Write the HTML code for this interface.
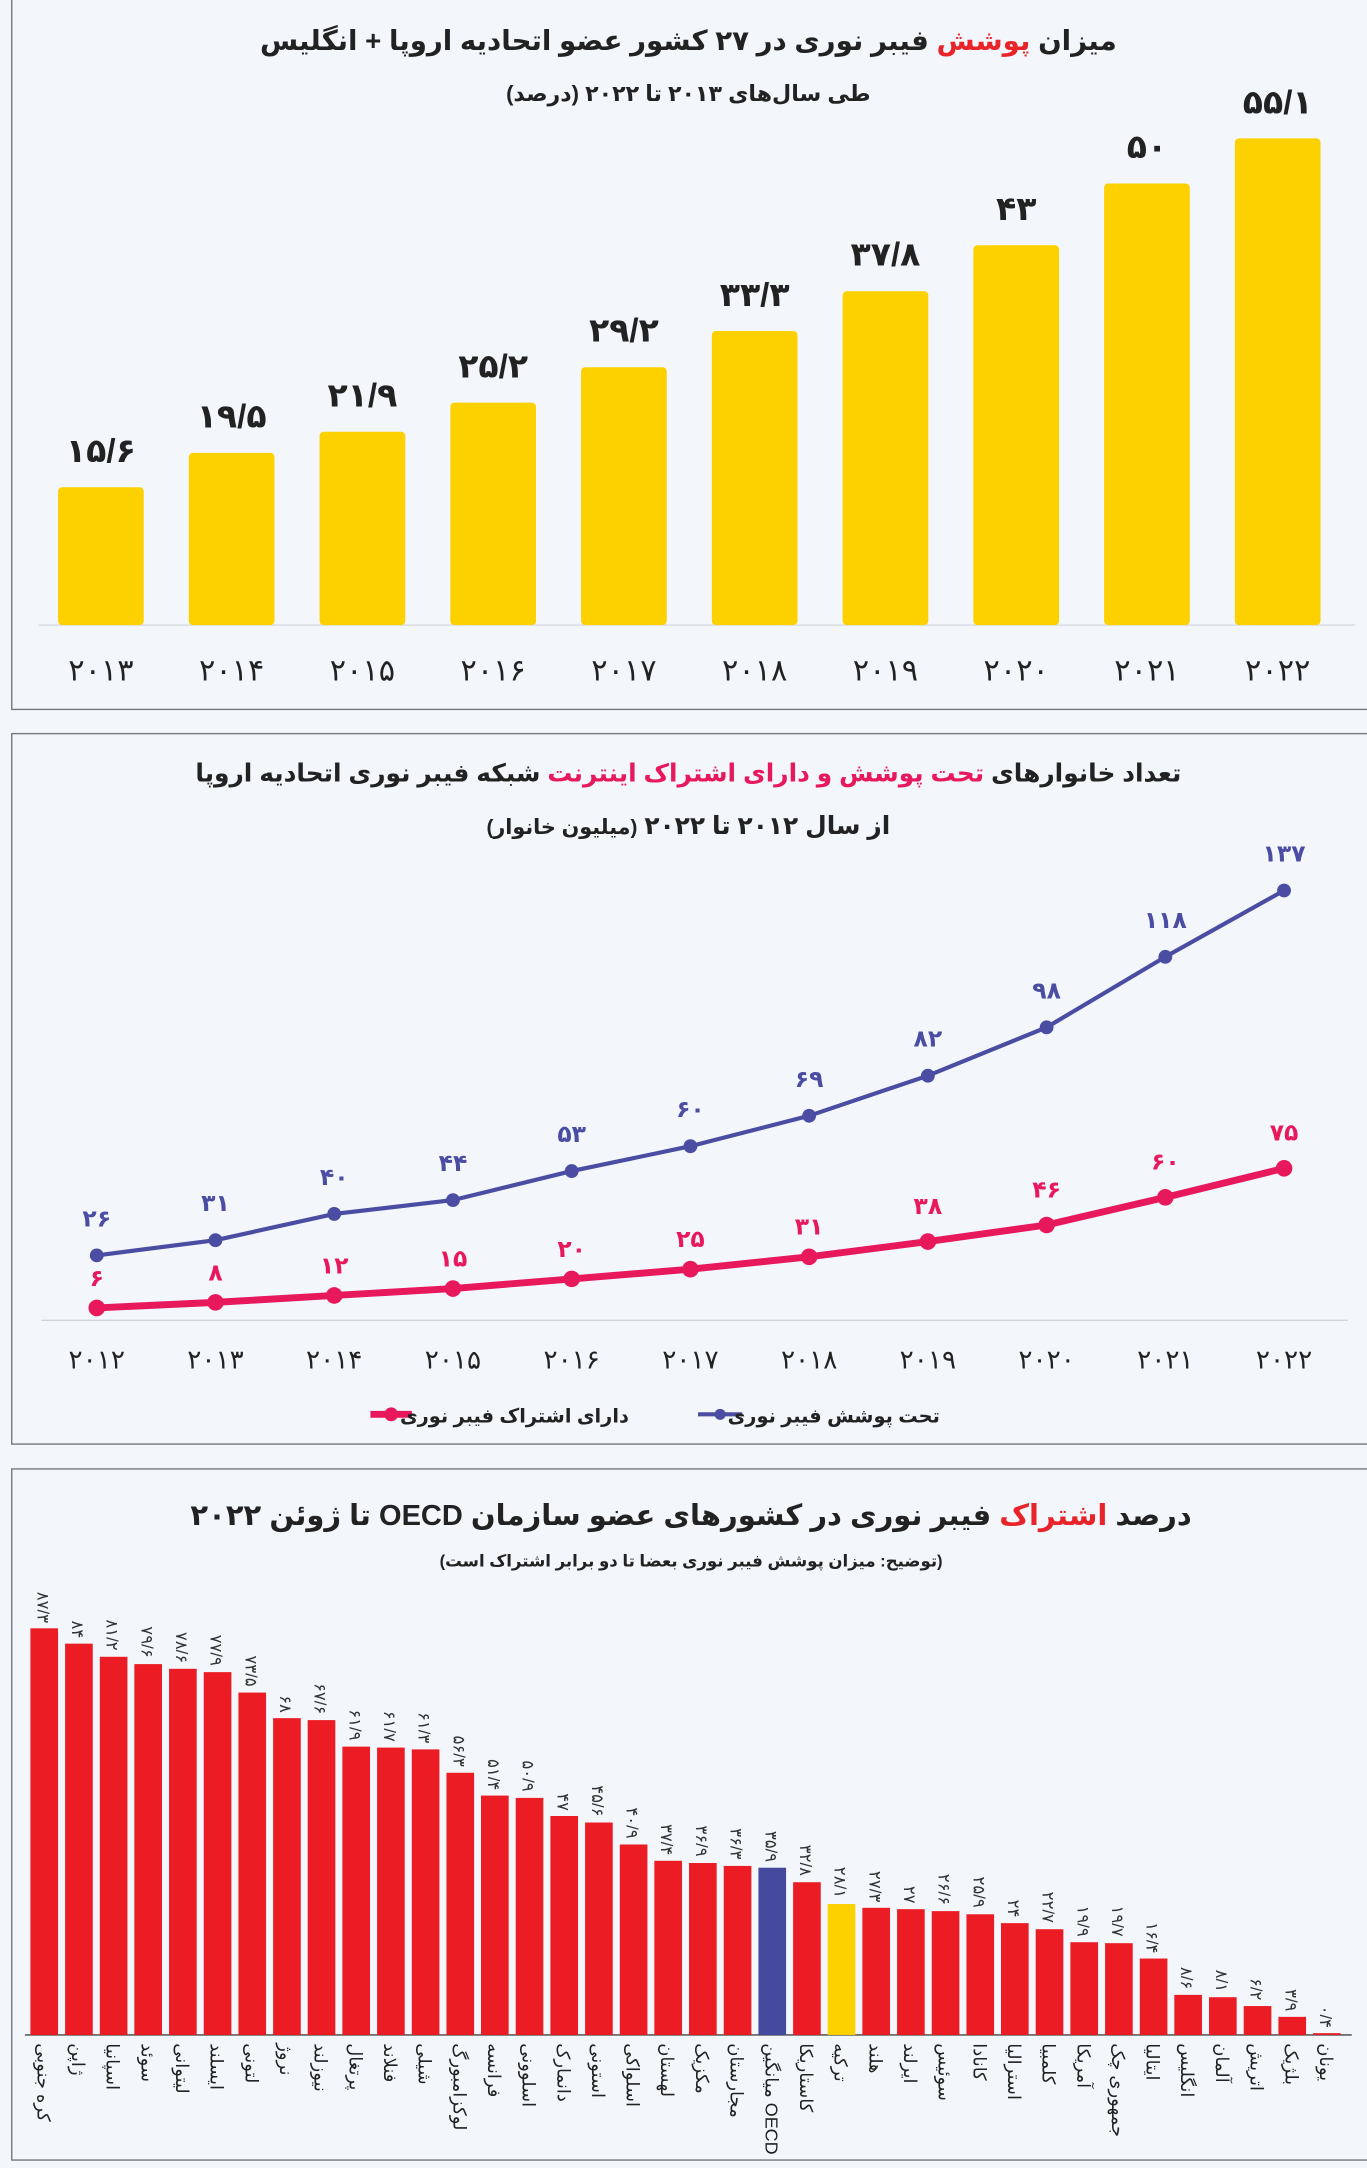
<!DOCTYPE html>
<html><head><meta charset="utf-8"><style>
html,body{margin:0;padding:0;background:#f3f7fc;}
svg{display:block;}
text{font-family:"Liberation Sans","Noto Sans CJK SC","DejaVu Sans",sans-serif;}
</style></head><body>
<svg xmlns="http://www.w3.org/2000/svg" width="1367" height="2168" viewBox="0 0 989 1568">
<rect width="989" height="1568" fill="#f3f7fc"/>
<!-- Panel 1 -->
<rect x="8.5" y="-1" width="990" height="514" fill="#f3f7fc" stroke="#777" stroke-width="1"/>
<text x="498" y="36" font-size="20" font-weight="bold" text-anchor="middle" direction="rtl" fill="#222">میزان <tspan fill="#e8242a">پوشش</tspan> فیبر نوری در ۲۷ کشور عضو اتحادیه اروپا + انگلیس</text>
<text x="498" y="73" font-size="16" font-weight="bold" text-anchor="middle" direction="rtl" fill="#222">طی سال‌های ۲۰۱۳ تا ۲۰۲۲ (درصد)</text>
<line x1="28" y1="452" x2="980" y2="452" stroke="#d8dce2" stroke-width="1"/>
<g fill="#fdd000">
<rect x="42" y="352.3" width="62" height="99.7" rx="3"/>
<rect x="136.6" y="327.4" width="62" height="124.6" rx="3"/>
<rect x="231.2" y="312.1" width="62" height="139.9" rx="3"/>
<rect x="325.8" y="291" width="62" height="161" rx="3"/>
<rect x="420.4" y="265.4" width="62" height="186.6" rx="3"/>
<rect x="515" y="239.2" width="62" height="212.8" rx="3"/>
<rect x="609.6" y="210.5" width="62" height="241.5" rx="3"/>
<rect x="704.2" y="177.2" width="62" height="274.8" rx="3"/>
<rect x="798.8" y="132.5" width="62" height="319.5" rx="3"/>
<rect x="893.4" y="99.9" width="62" height="352.1" rx="3"/>
</g>
<g font-size="24" font-weight="bold" text-anchor="middle" fill="#222">
<text x="73" y="334">۱۵/۶</text>
<text x="167.6" y="309">۱۹/۵</text>
<text x="262.2" y="294">۲۱/۹</text>
<text x="356.8" y="273">۲۵/۲</text>
<text x="451.4" y="247">۲۹/۲</text>
<text x="546" y="221">۳۳/۳</text>
<text x="640.6" y="192">۳۷/۸</text>
<text x="735.2" y="159">۴۳</text>
<text x="829.8" y="114">۵۰</text>
<text x="924.4" y="82">۵۵/۱</text>
</g>
<g font-size="22" text-anchor="middle" fill="#222">
<text x="73" y="492">۲۰۱۳</text>
<text x="167.6" y="492">۲۰۱۴</text>
<text x="262.2" y="492">۲۰۱۵</text>
<text x="356.8" y="492">۲۰۱۶</text>
<text x="451.4" y="492">۲۰۱۷</text>
<text x="546" y="492">۲۰۱۸</text>
<text x="640.6" y="492">۲۰۱۹</text>
<text x="735.2" y="492">۲۰۲۰</text>
<text x="829.8" y="492">۲۰۲۱</text>
<text x="924.4" y="492">۲۰۲۲</text>
</g>

<!-- Panel 2 -->
<rect x="8.5" y="530.5" width="990" height="514" fill="#f3f7fc" stroke="#777" stroke-width="1"/>
<text x="498" y="565" font-size="18" font-weight="bold" text-anchor="middle" direction="rtl" fill="#222">تعداد خانوارهای <tspan fill="#e8185c">تحت پوشش و دارای اشتراک اینترنت</tspan> شبکه فیبر نوری اتحادیه اروپا</text>
<text x="498" y="603" font-size="18" font-weight="bold" text-anchor="middle" direction="rtl" fill="#222">از سال ۲۰۱۲ تا ۲۰۲۲ <tspan font-size="15">(میلیون خانوار)</tspan></text>
<line x1="30" y1="955" x2="975" y2="955" stroke="#d0d4da" stroke-width="1"/>
<polyline fill="none" stroke="#4b4da3" stroke-width="3" points="70,908 155.9,897 241.8,878 327.7,868 413.6,847 499.5,829 585.4,807 671.3,778 757.2,743 843.1,692 929,644"/>
<polyline fill="none" stroke="#e8185c" stroke-width="5" points="70,946 155.9,942 241.8,937 327.7,932 413.6,925 499.5,918 585.4,909 671.3,898 757.2,886 843.1,866 929,845"/>
<g fill="#4b4da3">
<circle cx="70" cy="908" r="5"/><circle cx="155.9" cy="897" r="5"/><circle cx="241.8" cy="878" r="5"/><circle cx="327.7" cy="868" r="5"/><circle cx="413.6" cy="847" r="5"/><circle cx="499.5" cy="829" r="5"/><circle cx="585.4" cy="807" r="5"/><circle cx="671.3" cy="778" r="5"/><circle cx="757.2" cy="743" r="5"/><circle cx="843.1" cy="692" r="5"/><circle cx="929" cy="644" r="5"/>
</g>
<g fill="#e8185c">
<circle cx="70" cy="946" r="6"/><circle cx="155.9" cy="942" r="6"/><circle cx="241.8" cy="937" r="6"/><circle cx="327.7" cy="932" r="6"/><circle cx="413.6" cy="925" r="6"/><circle cx="499.5" cy="918" r="6"/><circle cx="585.4" cy="909" r="6"/><circle cx="671.3" cy="898" r="6"/><circle cx="757.2" cy="886" r="6"/><circle cx="843.1" cy="866" r="6"/><circle cx="929" cy="845" r="6"/>
</g>
<g font-size="17" font-weight="bold" text-anchor="middle" fill="#4b4da3">
<text x="70" y="887">۲۶</text><text x="155.9" y="876">۳۱</text><text x="241.8" y="857">۴۰</text><text x="327.7" y="847">۴۴</text><text x="413.6" y="826">۵۳</text><text x="499.5" y="808">۶۰</text><text x="585.4" y="786">۶۹</text><text x="671.3" y="757">۸۲</text><text x="757.2" y="722">۹۸</text><text x="843.1" y="671">۱۱۸</text><text x="929" y="623">۱۳۷</text>
</g>
<g font-size="17" font-weight="bold" text-anchor="middle" fill="#e8185c">
<text x="70" y="930">۶</text><text x="155.9" y="926">۸</text><text x="241.8" y="921">۱۲</text><text x="327.7" y="916">۱۵</text><text x="413.6" y="909">۲۰</text><text x="499.5" y="902">۲۵</text><text x="585.4" y="893">۳۱</text><text x="671.3" y="878">۳۸</text><text x="757.2" y="866">۴۶</text><text x="843.1" y="846">۶۰</text><text x="929" y="825">۷۵</text>
</g>
<g font-size="19" text-anchor="middle" fill="#222">
<text x="70" y="990">۲۰۱۲</text><text x="155.9" y="990">۲۰۱۳</text><text x="241.8" y="990">۲۰۱۴</text><text x="327.7" y="990">۲۰۱۵</text><text x="413.6" y="990">۲۰۱۶</text><text x="499.5" y="990">۲۰۱۷</text><text x="585.4" y="990">۲۰۱۸</text><text x="671.3" y="990">۲۰۱۹</text><text x="757.2" y="990">۲۰۲۰</text><text x="843.1" y="990">۲۰۲۱</text><text x="929" y="990">۲۰۲۲</text>
</g>
<line x1="268" y1="1023" x2="298" y2="1023" stroke="#e8185c" stroke-width="5"/><circle cx="283" cy="1023" r="5" fill="#e8185c"/>
<text x="455" y="1029" font-size="14" font-weight="bold" text-anchor="start" direction="rtl" fill="#222">دارای اشتراک فیبر نوری</text>
<line x1="505" y1="1023" x2="537" y2="1023" stroke="#4b4da3" stroke-width="3"/><circle cx="521" cy="1023" r="4" fill="#4b4da3"/>
<text x="680" y="1029" font-size="14" font-weight="bold" text-anchor="start" direction="rtl" fill="#222">تحت پوشش فیبر نوری</text>

<!-- Panel 3 -->
<rect x="8.5" y="1062.5" width="990" height="500" fill="#f3f7fc" stroke="#777" stroke-width="1"/>
<text x="500" y="1103" font-size="21" font-weight="bold" text-anchor="middle" direction="rtl" fill="#222">درصد <tspan fill="#e8242a">اشتراک</tspan> فیبر نوری در کشورهای عضو سازمان OECD تا ژوئن ۲۰۲۲</text>
<text x="500" y="1133" font-size="12" font-weight="bold" text-anchor="middle" direction="rtl" fill="#222">(توضیح: میزان پوشش فیبر نوری بعضا تا دو برابر اشتراک است)</text>
<line x1="18" y1="1472" x2="978" y2="1472" stroke="#444" stroke-width="1"/>
<g fill="#ec1c24">
<rect x="22" y="1177.8" width="20" height="294.2"/><rect x="47.1" y="1188.9" width="20" height="283.1"/><rect x="72.2" y="1198.4" width="20" height="273.6"/><rect x="97.2" y="1203.7" width="20" height="268.3"/><rect x="122.3" y="1207.1" width="20" height="264.9"/><rect x="147.4" y="1209.5" width="20" height="262.5"/><rect x="172.5" y="1224.3" width="20" height="247.7"/><rect x="197.6" y="1242.8" width="20" height="229.2"/><rect x="222.6" y="1244.2" width="20" height="227.8"/><rect x="247.7" y="1263.4" width="20" height="208.6"/><rect x="272.8" y="1264.1" width="20" height="207.9"/><rect x="297.9" y="1265.4" width="20" height="206.6"/><rect x="323" y="1282.3" width="20" height="189.7"/><rect x="348" y="1298.8" width="20" height="173.2"/><rect x="373.1" y="1300.5" width="20" height="171.5"/><rect x="398.2" y="1313.6" width="20" height="158.4"/><rect x="423.3" y="1318.3" width="20" height="153.7"/><rect x="448.4" y="1334.2" width="20" height="137.8"/><rect x="473.4" y="1346" width="20" height="126"/><rect x="498.5" y="1347.6" width="20" height="124.4"/><rect x="523.6" y="1349.7" width="20" height="122.3"/>
<rect x="573.8" y="1361.5" width="20" height="110.5"/><rect x="623.9" y="1380" width="20" height="92"/><rect x="649" y="1381" width="20" height="91"/><rect x="674.1" y="1382.4" width="20" height="89.6"/><rect x="699.2" y="1384.7" width="20" height="87.3"/><rect x="724.2" y="1391.1" width="20" height="80.9"/><rect x="749.3" y="1395.5" width="20" height="76.5"/><rect x="774.4" y="1404.9" width="20" height="67.1"/><rect x="799.5" y="1405.6" width="20" height="66.4"/><rect x="824.6" y="1416.7" width="20" height="55.3"/><rect x="849.6" y="1443" width="20" height="29"/><rect x="874.7" y="1444.7" width="20" height="27.3"/><rect x="899.8" y="1451.1" width="20" height="20.9"/><rect x="924.9" y="1458.9" width="20" height="13.1"/><rect x="950" y="1470.7" width="20" height="1.3"/>
</g>
<rect x="548.7" y="1351" width="20" height="121" fill="#454a9e"/>
<rect x="598.8" y="1377.3" width="20" height="94.7" fill="#fdd000"/>
<g font-size="12" fill="#333" text-anchor="end">
<text transform="translate(27,1174) rotate(90)">۸۷/۳</text>
<text transform="translate(52.1,1185) rotate(90)">۸۴</text>
<text transform="translate(77.2,1194) rotate(90)">۸۱/۲</text>
<text transform="translate(102.2,1199) rotate(90)">۷۹/۶</text>
<text transform="translate(127.3,1203) rotate(90)">۷۸/۶</text>
<text transform="translate(152.4,1205) rotate(90)">۷۷/۹</text>
<text transform="translate(177.5,1220) rotate(90)">۷۳/۵</text>
<text transform="translate(202.6,1239) rotate(90)">۶۸</text>
<text transform="translate(227.6,1240) rotate(90)">۶۷/۶</text>
<text transform="translate(252.7,1259) rotate(90)">۶۱/۹</text>
<text transform="translate(277.8,1260) rotate(90)">۶۱/۷</text>
<text transform="translate(302.9,1261) rotate(90)">۶۱/۳</text>
<text transform="translate(328,1278) rotate(90)">۵۶/۳</text>
<text transform="translate(353,1295) rotate(90)">۵۱/۴</text>
<text transform="translate(378.1,1296) rotate(90)">۵۰/۹</text>
<text transform="translate(403.2,1310) rotate(90)">۴۷</text>
<text transform="translate(428.3,1314) rotate(90)">۴۵/۶</text>
<text transform="translate(453.4,1330) rotate(90)">۴۰/۹</text>
<text transform="translate(478.4,1342) rotate(90)">۳۷/۴</text>
<text transform="translate(503.5,1343) rotate(90)">۳۶/۹</text>
<text transform="translate(528.6,1345) rotate(90)">۳۶/۳</text>
<text transform="translate(553.7,1347) rotate(90)">۳۵/۹</text>
<text transform="translate(578.8,1357) rotate(90)">۳۲/۸</text>
<text transform="translate(603.8,1373) rotate(90)">۲۸/۱</text>
<text transform="translate(628.9,1376) rotate(90)">۲۷/۳</text>
<text transform="translate(654,1377) rotate(90)">۲۷</text>
<text transform="translate(679.1,1378) rotate(90)">۲۶/۶</text>
<text transform="translate(704.2,1380) rotate(90)">۲۵/۹</text>
<text transform="translate(729.2,1387) rotate(90)">۲۴</text>
<text transform="translate(754.3,1391) rotate(90)">۲۲/۷</text>
<text transform="translate(779.4,1401) rotate(90)">۱۹/۹</text>
<text transform="translate(804.5,1401) rotate(90)">۱۹/۷</text>
<text transform="translate(829.6,1413) rotate(90)">۱۶/۴</text>
<text transform="translate(854.6,1439) rotate(90)">۸/۶</text>
<text transform="translate(879.7,1441) rotate(90)">۸/۱</text>
<text transform="translate(904.8,1447) rotate(90)">۶/۲</text>
<text transform="translate(929.9,1455) rotate(90)">۳/۹</text>
<text transform="translate(955,1467) rotate(90)">۰/۴</text>
</g>
<g font-size="13" fill="#222" text-anchor="start">
<text transform="translate(27,1478) rotate(90)">کره جنوبی</text>
<text transform="translate(52.1,1478) rotate(90)">ژاپن</text>
<text transform="translate(77.2,1478) rotate(90)">اسپانیا</text>
<text transform="translate(102.2,1478) rotate(90)">سوئد</text>
<text transform="translate(127.3,1478) rotate(90)">لیتوانی</text>
<text transform="translate(152.4,1478) rotate(90)">ایسلند</text>
<text transform="translate(177.5,1478) rotate(90)">لتونی</text>
<text transform="translate(202.6,1478) rotate(90)">نروژ</text>
<text transform="translate(227.6,1478) rotate(90)">نیوزلند</text>
<text transform="translate(252.7,1478) rotate(90)">پرتغال</text>
<text transform="translate(277.8,1478) rotate(90)">فنلاند</text>
<text transform="translate(302.9,1478) rotate(90)">شیلی</text>
<text transform="translate(328,1478) rotate(90)">لوکزامبورگ</text>
<text transform="translate(353,1478) rotate(90)">فرانسه</text>
<text transform="translate(378.1,1478) rotate(90)">اسلوونی</text>
<text transform="translate(403.2,1478) rotate(90)">دانمارک</text>
<text transform="translate(428.3,1478) rotate(90)">استونی</text>
<text transform="translate(453.4,1478) rotate(90)">اسلواکی</text>
<text transform="translate(478.4,1478) rotate(90)">لهستان</text>
<text transform="translate(503.5,1478) rotate(90)">مکزیک</text>
<text transform="translate(528.6,1478) rotate(90)">مجارستان</text>
<text transform="translate(553.7,1478) rotate(90)">میانگین OECD</text>
<text transform="translate(578.8,1478) rotate(90)">کاستاریکا</text>
<text transform="translate(603.8,1478) rotate(90)">ترکیه</text>
<text transform="translate(628.9,1478) rotate(90)">هلند</text>
<text transform="translate(654,1478) rotate(90)">ایرلند</text>
<text transform="translate(679.1,1478) rotate(90)">سوئیس</text>
<text transform="translate(704.2,1478) rotate(90)">کانادا</text>
<text transform="translate(729.2,1478) rotate(90)">استرالیا</text>
<text transform="translate(754.3,1478) rotate(90)">کلمبیا</text>
<text transform="translate(779.4,1478) rotate(90)">آمریکا</text>
<text transform="translate(804.5,1478) rotate(90)">جمهوری چک</text>
<text transform="translate(829.6,1478) rotate(90)">ایتالیا</text>
<text transform="translate(854.6,1478) rotate(90)">انگلیس</text>
<text transform="translate(879.7,1478) rotate(90)">آلمان</text>
<text transform="translate(904.8,1478) rotate(90)">اتریش</text>
<text transform="translate(929.9,1478) rotate(90)">بلژیک</text>
<text transform="translate(955,1478) rotate(90)">یونان</text>
</g>
</svg>
</body></html>
